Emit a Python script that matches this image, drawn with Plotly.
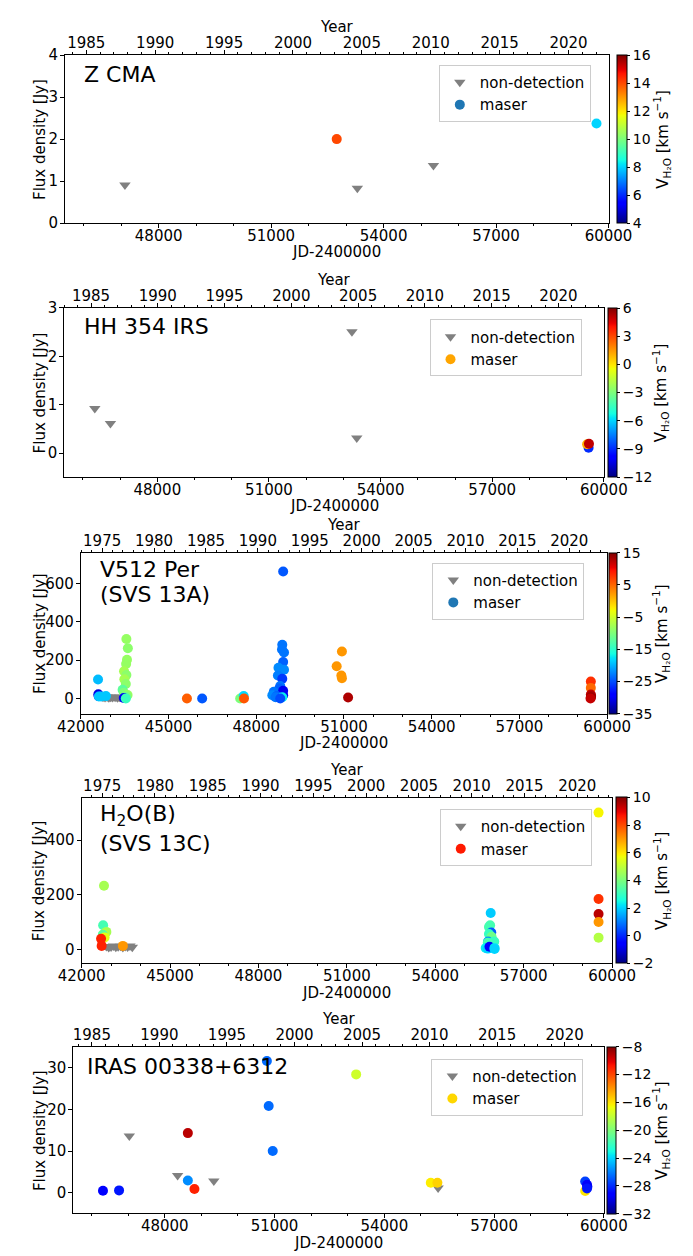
import numpy as np
import plotly.graph_objects as go

W, H = 693, 1256

# ---------------- data ----------------
# Z CMA
zcma_nd_jd = [47100, 53300, 55330]
zcma_nd_flux = [0.91, 0.83, 1.37]
zcma_m_jd = [52750, 59680]
zcma_m_flux = [2.0, 2.37]
zcma_m_vel = [14.0, 8.0]

# HH 354 IRS
hh_nd_jd = [46320, 46740, 53230, 53360]
hh_nd_flux = [0.92, 0.61, 2.51, 0.31]
hh_m_jd = [59590, 59550, 59600]
hh_m_flux = [0.11, 0.18, 0.19]
hh_m_vel = [-9.0, 1.0, 5.0]

# V512 Per (SVS 13A)
v512_nd_jd = [42760, 42830, 42900, 42960, 43020, 43080, 43140, 43200, 43260, 43320, 43380]
v512_nd_flux = [6, 5, 7, 4, 6, 5, 7, 6, 4, 6, 5]
v512_m_jd = [42590, 42600, 42610, 42620, 42700, 42860,
             43560, 43610, 43580, 43550, 43480, 43560, 43490, 43540, 43430, 43470, 43600, 43560, 43500, 43470, 43540,
             45630, 46150, 47450, 47570, 47580,
             48920, 48890, 48880, 48950, 48920, 48760, 48950, 48740, 48890, 48820, 48790, 48600, 48550,
             48920, 48920, 48700, 48890, 48660, 48820,
             50930, 50750, 50910, 50930, 51140,
             59440, 59440, 59440, 59450, 59440, 59430]
v512_m_flux = [99, 22, 12, 10, 10, 12,
               310, 262, 202, 180, 142, 122, 100, 75, 45, 30, 18, 10, 5, 2, 0,
               0, 0, 0, 13, 0,
               662, 280, 255, 240, 190, 160, 150, 120, 103, 65, 52, 35, 17,
               40, 17, 13, 6, 6, 0,
               245, 168, 120, 105, 5,
               88, 55, 20, 12, 5, 0]
v512_m_vel = [-19.5, -31, -28, -19, -19, -19,
              -8.5, -9, -8.5, -8.5, -7.5, -9, -7.5, -9, -12, -10, -8.5, -10, -12, -30, -14,
              5.5, -24.5, -10, -18, 6,
              -24.5, -23, -23, -23, -24, -22, -22, -22.5, -26, -23, -24, -23, -22,
              -30, -30, -24, -17, -23, -25,
              2.5, 2.5, 2.5, 2.5, 13,
              8, 5, 12, 13, 14, 12]

# H2O(B) (SVS 13C)
h2ob_nd_jd = [42840, 42920, 43000, 43080, 43160, 43240, 43320, 43400, 43480, 43560, 43640, 43720]
h2ob_nd_flux = [12, 8, 10, 14, 9, 11, 13, 8, 12, 10, 14, 9]
h2ob_m_jd = [42760, 42730, 42840, 42760, 42720, 42780, 42660, 42680, 43400,
             55880, 55860, 55820, 55900, 55890, 55820, 55910, 55790, 55980, 56000, 55780,
             55710, 55780, 55840, 56010, 56010,
             59540, 59540, 59540, 59540, 59540]
h2ob_m_flux = [233, 89, 65, 56, 55, 45, 40, 14, 14,
               134, 89, 83, 63, 55, 57, 47, 30, 28, 30, 25,
               6, 4, 11, 6, 3,
               500, 185, 130, 101, 44]
h2ob_m_vel = [4.6, 3.2, 4.6, 5.0, 3.5, 5.5, 8.5, 8.5, 7.0,
              1.9, 3.2, 3.2, 0.6, 0.6, 3.0, 3.8, 1.2, 2.5, 3.0, 3.2,
              2.3, 2.0, -0.5, 2.3, 2.0,
              5.8, 8.3, 9.4, 7.0, 4.8]

# IRAS 00338+6312
iras_nd_jd = [47030, 48350, 49340, 55470]
iras_nd_flux = [13.6, 4.1, 2.8, 1.1]
iras_m_jd = [46310, 46750, 48630, 48630, 48810, 50790, 50840, 50950, 53230, 55270, 55450,
             59490, 59490, 59540, 59550, 59540]
iras_m_flux = [0.45, 0.55, 14.3, 2.9, 0.9, 31.6, 20.8, 10.0, 28.4, 2.4, 2.4,
               0.4, 2.7, 1.9, 1.4, 1.0]
iras_m_vel = [-29, -28.5, -9.2, -25.7, -11, -26.5, -26.5, -26.5, -17.6, -16.2, -15.5,
              -16, -27.5, -29, -29.5, -28.5]

# ---------------- matplotlib "jet" colorscale ----------------
_jet = {
    'r': [(0, 0), (0.35, 0), (0.66, 1), (0.89, 1), (1, 0.5)],
    'g': [(0, 0), (0.125, 0), (0.375, 1), (0.64, 1), (0.91, 0), (1, 0)],
    'b': [(0, 0.5), (0.11, 1), (0.34, 1), (0.65, 0), (1, 0)],
}
_bp = sorted(set([p[0] for c in _jet.values() for p in c]))
JET = []
for t in _bp:
    rgb = [np.interp(t, [p[0] for p in _jet[c]], [p[1] for p in _jet[c]]) for c in 'rgb']
    JET.append([t, 'rgb(%d,%d,%d)' % tuple(int(round(v * 255)) for v in rgb)])

# ---------------- panel styles ----------------
panels = [
    dict(lines=["Z CMA"], nd=(zcma_nd_jd, zcma_nd_flux), m=(zcma_m_jd, zcma_m_flux, zcma_m_vel),
         px=(44, 628), py=(46.7, 217.3), xr=[45500, 60000], yrr=[1983.45, 2022.9], yr=[0, 4],
         yt=[0, 1, 2, 3, 4], cr=(4, 16), ct=[4, 6, 8, 10, 12, 14, 16], cbx=637, cbt=10, cbtx=685,
         lab=(62, 66, []), leg=(609, 56.7), legc='#1f77b4'),
    dict(lines=["HH 354 IRS"], nd=(hh_nd_jd, hh_nd_flux), m=(hh_m_jd, hh_m_flux, hh_m_vel),
         px=(43.3, 623), py=(303.3, 475), xr=[45500, 60000], yrr=[1983.0, 2023.4], yr=[-0.5, 3],
         yt=[0, 1, 2, 3], cr=(-12, 6), ct=[-12, -9, -6, -3, 0, 3, 6], cbx=627, cbt=9, cbtx=684,
         lab=(62, 322, []), leg=(599, 315), legc='#ffa500'),
    dict(lines=["V512 Per", "(SVS 13A)"], nd=(v512_nd_jd, v512_nd_flux), m=(v512_m_jd, v512_m_flux, v512_m_vel),
         px=(61, 626.6), py=(551.7, 715), xr=[42000, 60000], yrr=[1972.94, 2023.65], yr=[-80, 760],
         yt=[0, 200, 400, 600], cr=(-35, 15), ct=[-35, -25, -15, -5, 5, 15], cbx=628.4, cbt=8, cbtx=684,
         lab=(79, 569, 594), leg=(602, 561.7), legc='#1f77b4'),
    dict(lines=["H<sub>2</sub>O(B)", "(SVS 13C)"], nd=(h2ob_nd_jd, h2ob_nd_flux), m=(h2ob_m_jd, h2ob_m_flux, h2ob_m_vel),
         px=(61.9, 631.9), py=(800, 968.3), xr=[42000, 60000], yrr=[1973.05, 2023.3], yr=[-50, 555],
         yt=[0, 200, 400], cr=(-2, 10), ct=[-2, 0, 2, 4, 6, 8, 10], cbx=636.3, cbt=11, cbtx=685,
         lab=(79.5, 818, 847), leg=(610, 811.7), legc='#ff1a00'),
    dict(lines=["IRAS 00338+6312"], nd=(iras_nd_jd, iras_nd_flux), m=(iras_m_jd, iras_m_flux, iras_m_vel),
         px=(53, 623), py=(1053, 1222), xr=[45500, 60000], yrr=[1983.63, 2022.9], yr=[-5, 35],
         yt=[0, 10, 20, 30], cr=(-32, -8), ct=[-32, -28, -24, -20, -16, -12, -8], cbx=626.6, cbt=9, cbtx=684,
         lab=(65.4, 1072.7, []), leg=(601, 1065), legc='#ffd700'),
]

FONT = "DejaVu Sans"
TICK = 15
fig = go.Figure()
layout = dict(width=W, height=H, margin=dict(l=0, r=0, t=0, b=0),
              paper_bgcolor='white', plot_bgcolor='white',
              font=dict(family=FONT, size=15, color='black'),
              showlegend=True, annotations=[])


def X(px):
    return px / W


def Y(py):
    return 1 - py / H


def ann(text, x, y, size=15, angle=0, xanchor='center'):
    layout['annotations'].append(dict(text=text, x=X(x), y=Y(y), xref='paper', yref='paper',
                                      xanchor=xanchor, yanchor='middle', showarrow=False,
                                      textangle=angle, font=dict(size=size, family=FONT)))


for k, p in enumerate(panels, start=1):
    xb = 'x' if k == 1 else 'x%d' % (2 * k - 1)
    xt = 'x%d' % (2 * k)
    ya = 'y' if k == 1 else 'y%d' % k
    leg = 'legend' if k == 1 else 'legend%d' % k
    xbk = 'xaxis' if k == 1 else 'xaxis%d' % (2 * k - 1)
    xtk = 'xaxis%d' % (2 * k)
    yak = 'yaxis' if k == 1 else 'yaxis%d' % k

    # helper (invisible) trace so that the top "Year" axis gets drawn
    fig.add_trace(go.Scatter(x=[None], y=[None], mode='markers', xaxis=xt, yaxis=ya,
                             showlegend=False, hoverinfo='skip', marker=dict(opacity=0)))

    fig.add_trace(go.Scatter(x=p['nd'][0], y=p['nd'][1], mode='markers', name='non-detection',
                             marker=dict(symbol='triangle-down', size=10, color='#808080'),
                             xaxis=xb, yaxis=ya, legend=leg, showlegend=True))
    y0, y1 = Y(p['py'][1]), Y(p['py'][0])
    fig.add_trace(go.Scatter(x=p['m'][0], y=p['m'][1], mode='markers', name='maser', showlegend=False,
                             marker=dict(symbol='circle', size=10, color=p['m'][2], colorscale=JET,
                                         cmin=p['cr'][0], cmax=p['cr'][1], showscale=True,
                                         line=dict(width=0),
                                         colorbar=dict(x=X(p['cbx']), xanchor='left', xpad=0, ypad=0,
                                                       y=(y0 + y1) / 2, yanchor='middle', len=y1 - y0,
                                                       lenmode='fraction', thickness=p['cbt'],
                                                       thicknessmode='pixels', outlinewidth=1,
                                                       outlinecolor='black', tickvals=p['ct'],
                                                       ticks='outside', ticklen=3, tickcolor='black',
                                                       tickfont=dict(size=14, family=FONT))),
                             xaxis=xb, yaxis=ya))
    fig.add_trace(go.Scatter(x=[None], y=[None], mode='markers', name='maser',
                             marker=dict(symbol='circle', size=10, color=p['legc']),
                             xaxis=xb, yaxis=ya, legend=leg, showlegend=True))

    xd = [X(p['px'][0]), X(p['px'][1])]
    layout[xbk] = dict(domain=xd, range=p['xr'], anchor=ya, tickmode='linear', tick0=0, dtick=3000,
                       tickformat='d', ticks='outside', ticklen=4, tickcolor='black', showline=True,
                       linecolor='black', linewidth=1, mirror=True, showgrid=False, zeroline=False,
                       tickfont=dict(size=TICK), ticklabelstandoff=-5,
                       minor=dict(dtick=1000, tick0=0, ticks='outside', ticklen=2, tickcolor='black', showgrid=False))
    layout[xtk] = dict(overlaying=xb, side='top', anchor=ya, range=p['yrr'], tickmode='linear', tick0=1975,
                       dtick=5, tickformat='d', ticks='outside', ticklen=4, tickcolor='black', showline=False,
                       showgrid=False, zeroline=False, tickfont=dict(size=TICK), ticklabelstandoff=-4,
                       minor=dict(dtick=1, tick0=1975, ticks='outside', ticklen=2, tickcolor='black', showgrid=False))
    layout[yak] = dict(domain=[y0, y1], range=p['yr'], anchor=xb, tickmode='array', tickvals=p['yt'],
                       ticks='outside', ticklen=4, tickcolor='black', showline=True, linecolor='black',
                       linewidth=1, mirror=True, showgrid=False, zeroline=False, tickfont=dict(size=TICK),
                       ticklabelstandoff=-1)
    layout[leg] = dict(x=X(p['leg'][0]), xanchor='right', y=Y(p['leg'][1]), yanchor='top',
                       bgcolor='rgba(255,255,255,0.8)', bordercolor='#cccccc', borderwidth=1,
                       font=dict(size=15, family=FONT))

    # axis titles
    cx = (p['px'][0] + p['px'][1]) / 2
    cy = (p['py'][0] + p['py'][1]) / 2
    ann('Year', cx, p['py'][0] - 28)
    ann('JD-2400000', cx, p['py'][1] + 29.5)
    ann('Flux density [Jy]', 17, cy, angle=-90)

    # panel label
    lx, ly1, ly2 = p['lab']
    ann(p['lines'][0], lx, ly1, size=22, xanchor='left')
    if len(p['lines']) > 1:
        ann(p['lines'][1], lx, ly2, size=22, xanchor='left')

    # colorbar title
    ann('V<sub>H₂O</sub> [km s<sup>−1</sup>]', p['cbtx'], cy, size=15, angle=-90)

fig.update_layout(**layout)
fig.write_html("out.html")
